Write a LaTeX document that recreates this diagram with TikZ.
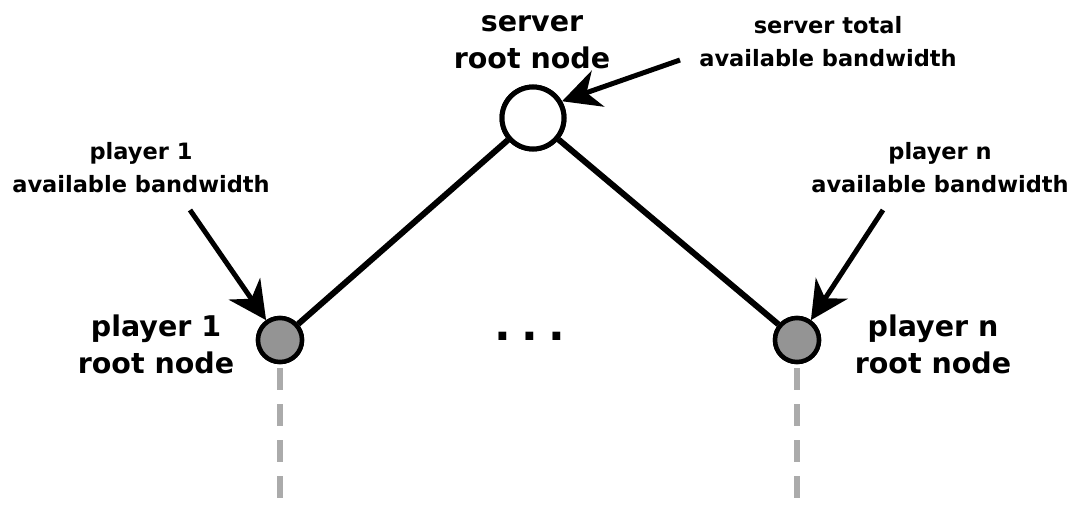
\documentclass[tikz,border=0pt]{standalone}
\usepackage{fontspec}
\setmainfont{DejaVu Sans}
\usetikzlibrary{arrows.meta}
\begin{document}
\begin{tikzpicture}[x=1pt,y=-1pt,
  bignode/.style={circle,draw=black,line width=5pt,fill=white,minimum size=62pt,inner sep=0pt},
  leafnode/.style={circle,draw=black,line width=4.5pt,fill=black!42,minimum size=44pt,inner sep=0pt},
  edge/.style={line width=6pt,black},
  pointer/.style={line width=5pt,-{Stealth[length=38pt,width=38pt,inset=12pt]}},
  bigtxt/.style={font=\bfseries\fontsize{28.5}{37}\selectfont,align=center,inner sep=0pt},
  smalltxt/.style={font=\bfseries\fontsize{22.5}{33}\selectfont,align=center,inner sep=0pt},
  subtree/.style={line width=6pt,black!33,dash pattern=on 22pt off 14pt}]
\useasboundingbox (0,0) rectangle (1075,508);
\node[bignode] (srv) at (533,118) {};
\node[leafnode] (p1) at (280,340) {};
\node[leafnode] (pn) at (797,340) {};
\coordinate (p1end) at (280,508);
\coordinate (pnend) at (797,508);
\draw[subtree] (p1.south) ++(0,4) -- (p1end);
\draw[subtree] (pn.south) ++(0,4) -- (pnend);
\draw[edge] (srv) -- (p1);
\draw[edge] (srv) -- (pn);
\node[bignode] at (srv) {};
\node[leafnode] at (p1) {};
\node[leafnode] at (pn) {};
\node[font=\bfseries\fontsize{44}{44}\selectfont] (dots) at (530,336) {.\hspace{10pt}.\hspace{10pt}.};
\node[bigtxt] (srvlbl) at (532,42) {server\\root node};
\node[smalltxt] (srvbw) at (828,42) {server total\\available bandwidth};
\node[smalltxt] (p1bw) at (141,168) {player 1\\available bandwidth};
\node[smalltxt] (pnbw) at (940,168) {player n\\available bandwidth};
\node[bigtxt] (p1lbl) at (156,344) {player 1\\root node};
\node[bigtxt] (pnlbl) at (933,344) {player n\\root node};
\coordinate (srvtail) at (680,60);
\coordinate (p1tail) at (190,210);
\coordinate (pntail) at (883,210);
\draw[pointer] (srvtail) -- (srv.30);
\draw[pointer] (p1tail) -- (p1.125);
\draw[pointer] (pntail) -- (pn.55);
\end{tikzpicture}
\end{document}
